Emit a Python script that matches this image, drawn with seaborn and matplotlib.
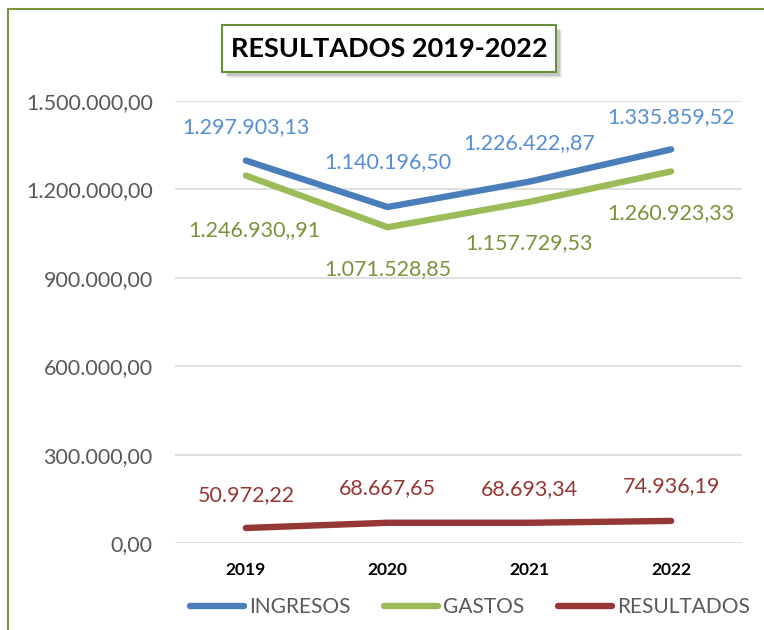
import matplotlib
matplotlib.use("Agg")
import matplotlib.pyplot as plt
import seaborn as sns
import pandas as pd
from matplotlib.patches import Rectangle
from matplotlib.lines import Line2D

years = ["2019", "2020", "2021", "2022"]
ingresos = [1297903.13, 1140196.50, 1226422.87, 1335859.52]
gastos = [1246930.91, 1071528.85, 1157729.53, 1260923.33]
resultados = [50972.22, 68667.65, 68693.34, 74936.19]
ingresos_labels = ["1.297.903,13", "1.140.196,50", "1.226.422,,87", "1.335.859,52"]
gastos_labels = ["1.246.930,,91", "1.071.528,85", "1.157.729,53", "1.260.923,33"]
resultados_labels = ["50.972,22", "68.667,65", "68.693,34", "74.936,19"]
series_names = ["INGRESOS", "GASTOS", "RESULTADOS"]
yticks = [0, 300000, 600000, 900000, 1200000, 1500000]
ytick_labels = ["0,00", "300.000,00", "600.000,00", "900.000,00", "1.200.000,00", "1.500.000,00"]
title = "RESULTADOS 2019-2022"

line_colors = ["#4A7EBB", "#9BBB59", "#953735"]
label_colors = ["#558ED5", "#77933C", "#953735"]

df = pd.DataFrame({
    "year": years * 3,
    "value": ingresos + gastos + resultados,
    "serie": [series_names[0]] * 4 + [series_names[1]] * 4 + [series_names[2]] * 4,
})

sns.set_theme(style="white")
plt.rcParams["font.family"] = ["Lato", "DejaVu Sans"]

W, H = 764, 630
fig = plt.figure(figsize=(W / 100, H / 100), dpi=100)
ax = fig.add_axes([175 / W, 87 / H, 567 / W, 442 / H])

sns.lineplot(data=df, x="year", y="value", hue="serie", palette=line_colors,
             linewidth=4.6, ax=ax, legend=False, sort=False)
for ln in ax.lines:
    ln.set_solid_capstyle("round")
    ln.set_solid_joinstyle("round")

ax.set_xlim(-0.5, 3.5)
ax.set_ylim(0, 1500000)
ax.set_yticks(yticks)
ax.set_yticklabels(ytick_labels, color="#595959", fontsize=15.5)
ax.set_xticks(range(len(years)))
ax.set_xticklabels(years, fontweight="bold", color="black", fontsize=12.5)
ax.tick_params(axis="y", length=0, pad=16)
ax.tick_params(axis="x", length=0, pad=14)
ax.set_xlabel("")
ax.set_ylabel("")
ax.grid(axis="y", color="#D9D9D9", linewidth=1.2)
ax.set_axisbelow(True)
for s in ax.spines.values():
    s.set_visible(False)

# data labels (offsets in points)
ing_off = [(0, 24), (0, 32), (0, 28), (0, 23)]
gas_off = [(6, -39), (0, -30), (0, -30), (0, -30)]
res_off = [(0, 24), (0, 25), (0, 24), (0, 25)]
for vals, labs, offs, col in [(ingresos, ingresos_labels, ing_off, label_colors[0]),
                              (gastos, gastos_labels, gas_off, label_colors[1]),
                              (resultados, resultados_labels, res_off, label_colors[2])]:
    for i, (v, t, o) in enumerate(zip(vals, labs, offs)):
        ax.annotate(t, (i, v), xytext=o, textcoords="offset points",
                    ha="center", va="center", color=col, fontsize=15.5)

# legend
handles = [Line2D([0], [0], color=c, linewidth=4.6, solid_capstyle="round") for c in line_colors]
fig.legend(handles, series_names, loc="center", bbox_to_anchor=(470 / W, 23 / H), ncol=3,
           frameon=False, handlelength=2.6, handletextpad=0.25, columnspacing=1.6,
           fontsize=15, labelcolor="#595959")

# title box with shadow
for k, a in [(6, 0.10), (5, 0.15), (4, 0.25)]:
    fig.patches.append(Rectangle(((222 + k) / W, 1 - (72 + k) / H), 334 / W, 47 / H,
                                 transform=fig.transFigure, facecolor="#7F7F7F",
                                 edgecolor="none", alpha=a, zorder=1))
fig.patches.append(Rectangle((222 / W, 1 - 72 / H), 334 / W, 47 / H,
                             transform=fig.transFigure, facecolor="white",
                             edgecolor="#6A8E3A", linewidth=1.5, zorder=2))
fig.text(389 / W, 1 - 49 / H, title, ha="center", va="center", fontsize=19.5,
         fontweight="bold", color="black", zorder=3)

# outer frame (left and top edges)
fig.lines.append(Line2D([7.5 / W, 7.5 / W, 1.0], [0.0, 1 - 9 / H, 1 - 9 / H],
                        transform=fig.transFigure, color="#77933C", linewidth=1.5))

fig.savefig("out.png", dpi=100)
